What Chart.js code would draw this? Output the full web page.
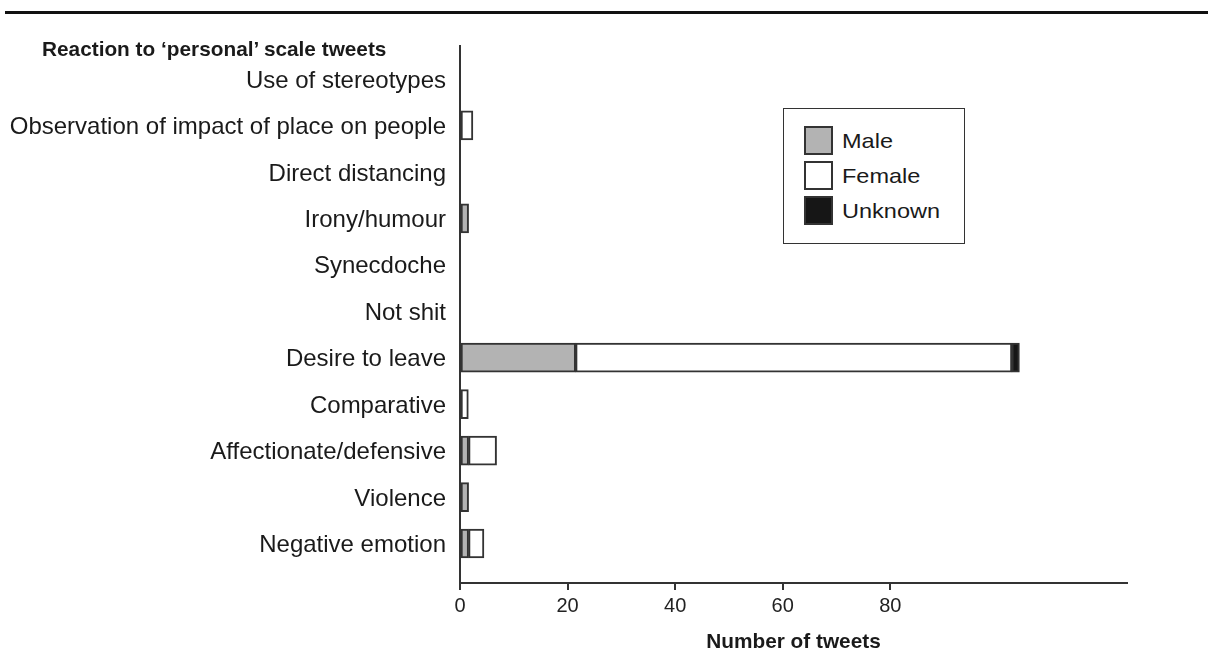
<!DOCTYPE html>
<html>
<head>
<meta charset="utf-8">
<script src="https://cdn.jsdelivr.net/npm/chart.js@4.4.0/dist/chart.umd.min.js"></script>
<style>
  html, body { margin: 0; padding: 0; background: #fff; }
  #wrap { position: relative; width: 1208px; height: 657px; overflow: hidden;
          font-family: "Liberation Sans", Arial, sans-serif; color: #1a1a1a; }
  #rule { position: absolute; left: 5px; right: 0; top: 11px; height: 3px; background: #111; }
  #title { position: absolute; left: 42px; top: 37px; font-weight: bold; font-size: 20.8px;
           line-height: 24px; white-space: nowrap; }
  #legend { position: absolute; left: 783px; top: 108px; width: 182px; height: 136px;
            border: 1.5px solid #333; box-sizing: border-box; background: #fff; }
  .item { position: absolute; left: 20px; height: 29px; }
  .swatch { position: absolute; left: 0; top: 0; width: 29px; height: 29px;
            box-sizing: border-box; border: 2px solid #333; }
  .label { position: absolute; left: 38px; top: 0; line-height: 29px; font-size: 21px;
           white-space: nowrap; transform: scaleX(1.12); transform-origin: left center; }
  canvas { position: absolute; left: 0; top: 0; }
</style>
</head>
<body>
<div id="wrap">
  <canvas id="tweetChart" width="1208" height="657"></canvas>
  <div id="rule"></div>
  <div id="title">Reaction to ‘personal’ scale tweets</div>
  <div id="legend"></div>
</div>
<script>
// categories top to bottom
const categories = [
  "Use of stereotypes",
  "Observation of impact of place on people",
  "Direct distancing",
  "Irony/humour",
  "Synecdoche",
  "Not shit",
  "Desire to leave",
  "Comparative",
  "Affectionate/defensive",
  "Violence",
  "Negative emotion"
];

// number of tweets per category
const maleTweets    = [0, 0,   0, 1.6, 0, 0, 21.5, 0,    1.6, 1.6, 1.6];
const femaleTweets  = [0, 2.4, 0, 0,   0, 0, 81.1, 1.55, 5.2, 0,   2.85];
const unknownTweets = [0, 0,   0, 0,   0, 0, 1.4,  0,    0,   0,   0];

const seriesNames = ["Male", "Female", "Unknown"];
const seriesFills = ["#b3b3b3", "#ffffff", "#161616"];
const xTicks = [0, 20, 40, 60, 80];

const seriesValues = [maleTweets, femaleTweets, unknownTweets];

// --- LEGEND (html box) ---
const legendBox = document.getElementById("legend");
seriesNames.forEach((name, k) => {
  const item = document.createElement("div");
  item.className = "item";
  item.style.top = (17 + k * 35) + "px";
  item.innerHTML = `<div class="swatch" style="background:${seriesFills[k]}"></div><span class="label">${name}</span>`;
  legendBox.appendChild(item);
});

// --- CHART ---
const ctx = document.getElementById("tweetChart").getContext("2d");

new Chart(ctx, {
  type: "bar",
  data: {
    datasets: seriesNames.map((name, k) => ({
      label: name,
      data: seriesValues[k].map((v, i) => ({ x: v || null, y: i })),
      backgroundColor: seriesFills[k],
      borderColor: "#333",
      borderWidth: 2,
      borderSkipped: false,
      barThickness: 29
    }))
  },
  options: {
    indexAxis: "y",
    responsive: false,
    animation: false,
    layout: { padding: { top: 46, right: 81, left: 0, bottom: 0 } },
    plugins: {
      legend: { display: false },
      tooltip: { enabled: false }
    },
    scales: {
      x: {
        type: "linear",
        stacked: true,
        min: 0,
        max: 124,
        afterBuildTicks: (scale) => { scale.ticks = xTicks.map(v => ({ value: v })); },
        afterFit: (scale) => { scale.height = 74; },
        grid: { display: true, drawOnChartArea: false, drawTicks: true, tickLength: 7,
                color: "#333", lineWidth: 2 },
        border: { display: true, color: "#333", width: 2 },
        ticks: {
          padding: 4,
          color: "#222",
          font: { family: "'Liberation Sans Narrow', 'Liberation Sans', Arial", size: 20 }
        },
        title: {
          display: true,
          text: "Number of tweets",
          color: "#1a1a1a",
          font: { family: "'Liberation Sans', Arial", size: 20.8, weight: "bold" },
          padding: { top: 0, bottom: 2 }
        }
      },
      y: {
        type: "linear",
        stacked: true,
        reverse: true,
        offset: false,
        min: -0.71,
        max: 10.85,
        afterBuildTicks: (scale) => { scale.ticks = categories.map((c, i) => ({ value: i })); },
        afterFit: (scale) => { scale.width = 460; },
        grid: { display: false, drawTicks: false, offset: false },
        border: { display: true, color: "#333", width: 2 },
        ticks: {
          autoSkip: false,
          padding: 14,
          labelOffset: 2,
          color: "#1a1a1a",
          font: { family: "'Liberation Sans', Arial", size: 24 },
          callback: (value) => categories[value]
        }
      }
    }
  }
});
</script>
</body>
</html>
